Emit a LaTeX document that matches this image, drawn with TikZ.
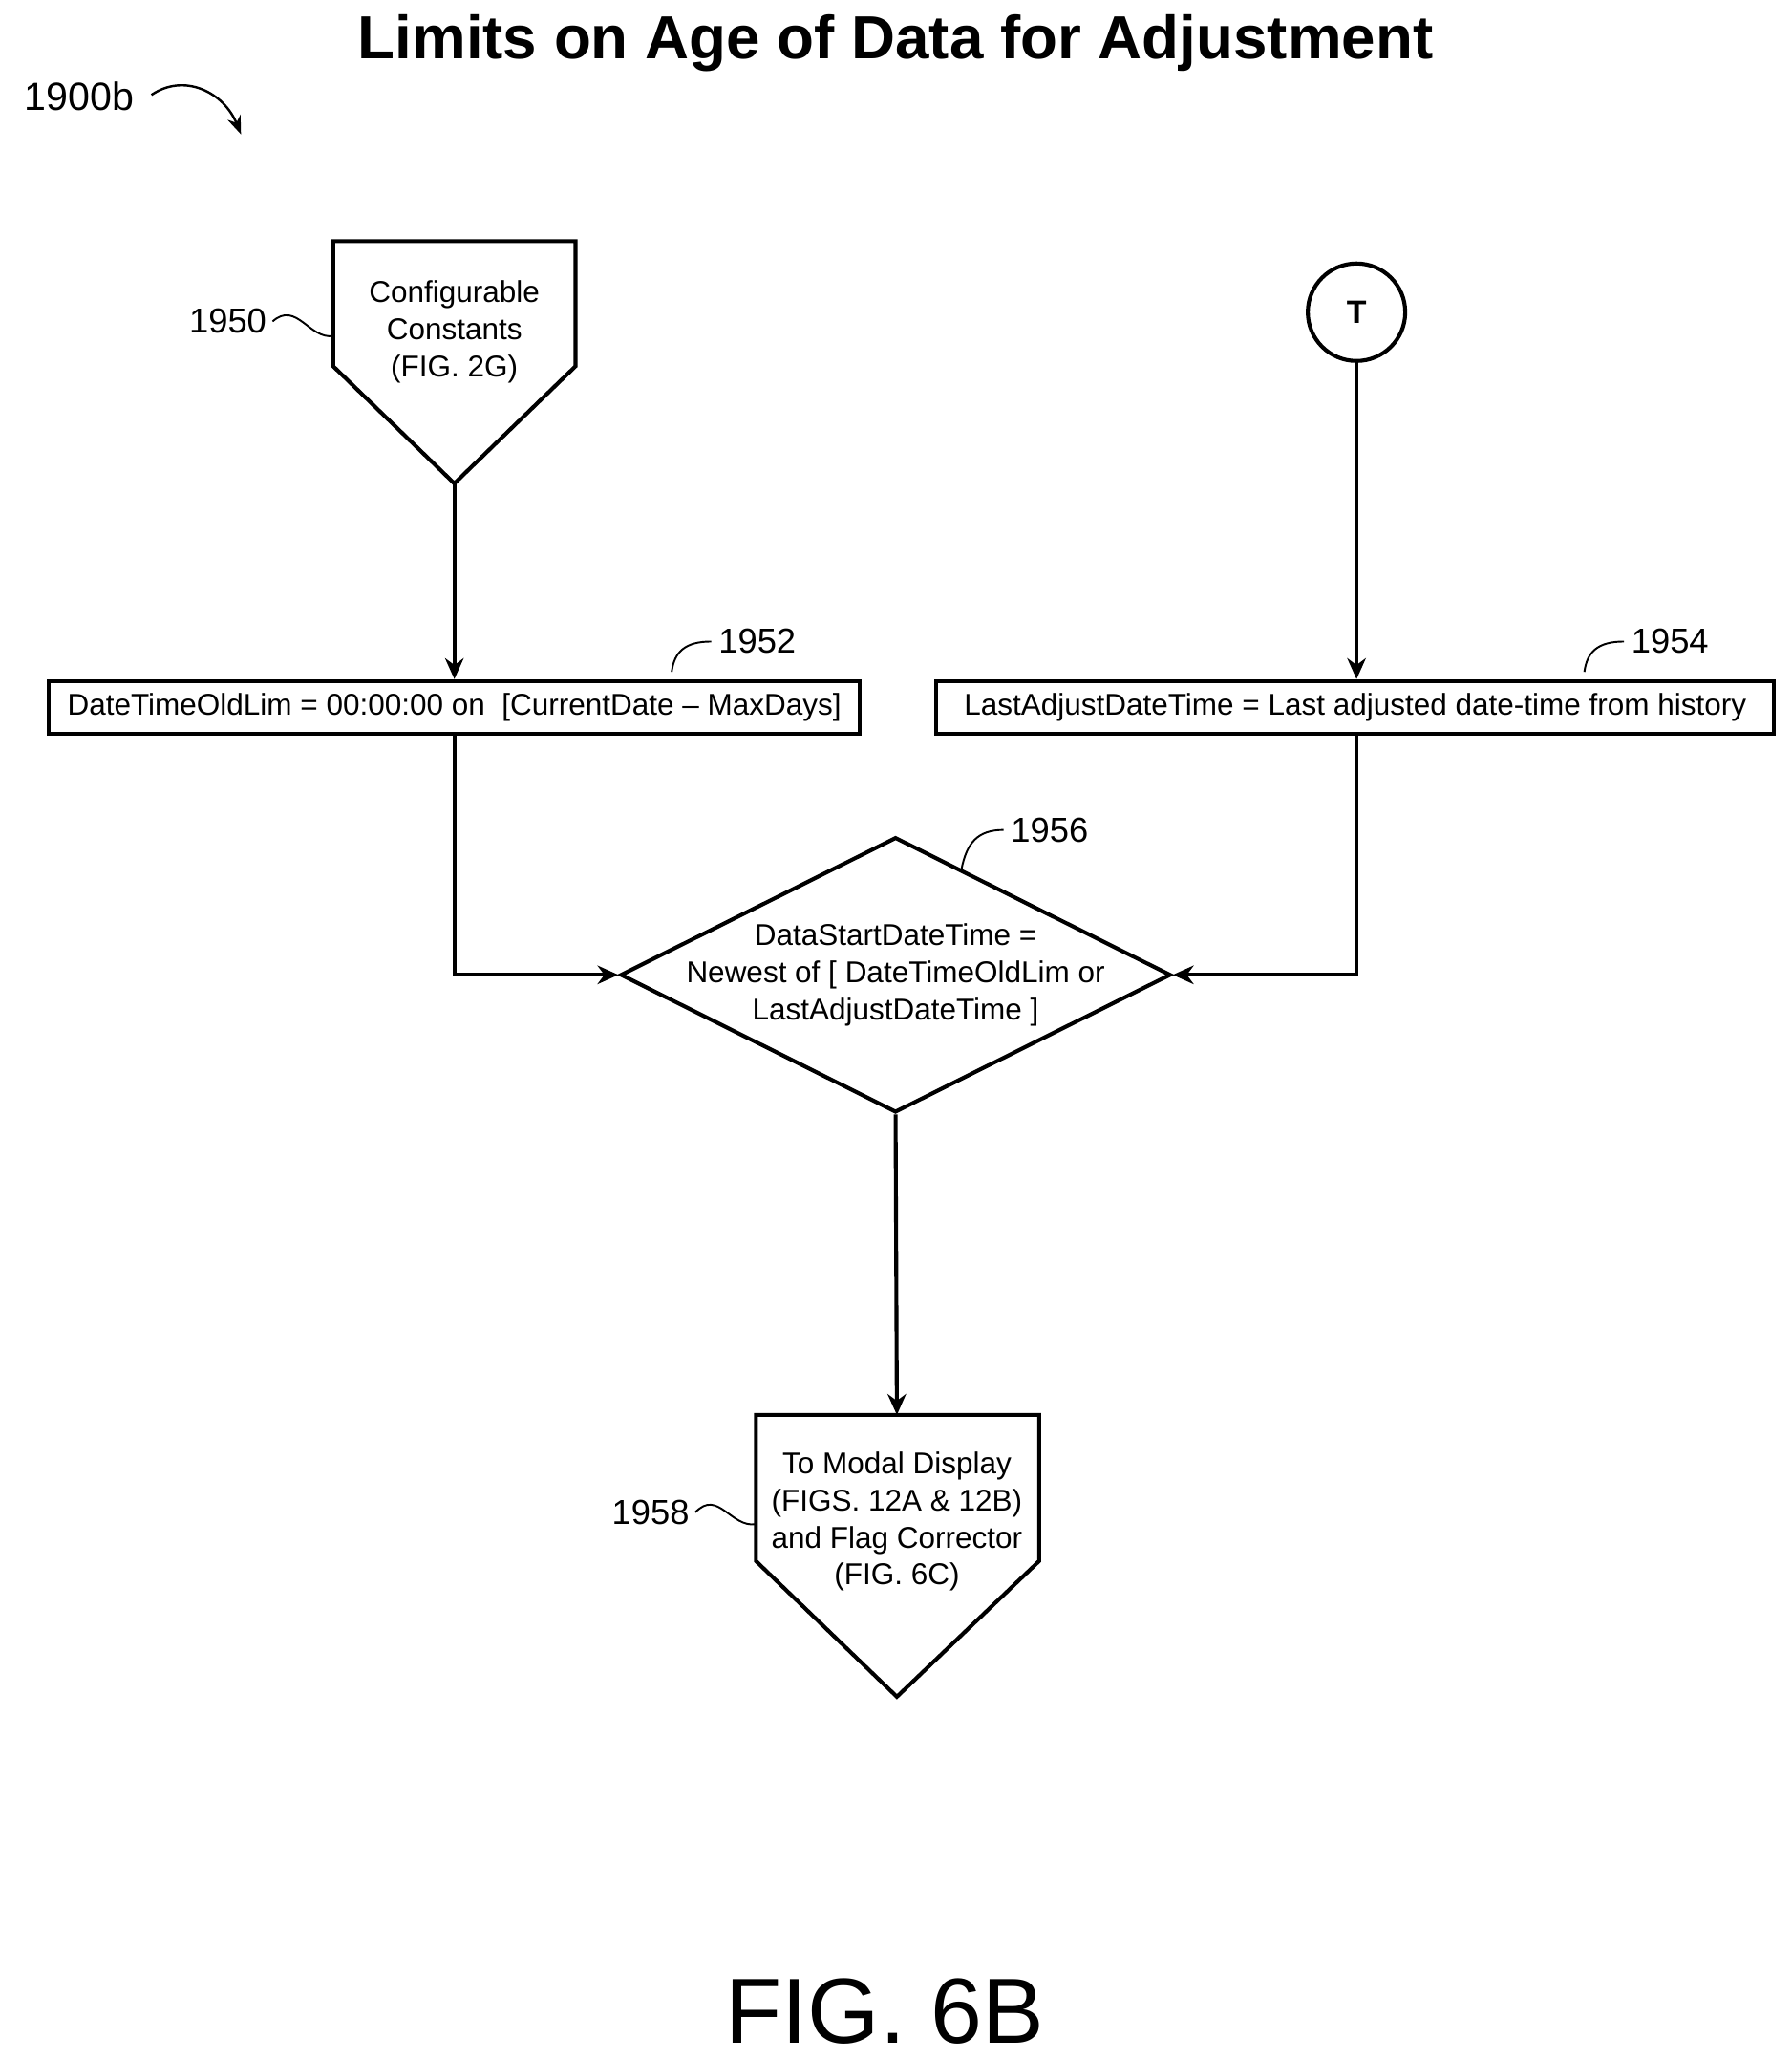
\documentclass[tikz,border=0pt]{standalone}
\usepackage{fontspec}
\setmainfont{Liberation Sans}
\usetikzlibrary{arrows.meta,shapes.geometric,positioning}
\tikzset{
	box/.style={draw, line width=1.7pt, minimum height=0.8cm, inner sep=2pt, font=\fontsize{13}{15}\selectfont},
	txt/.style={align=center, font=\fontsize{13}{16}\selectfont},
	ref/.style={font=\fontsize{15}{17}\selectfont},
	flow/.style={line width=1.7pt, -{Stealth[length=9pt,width=8pt]}},
	squig/.style={line width=0.8pt}
}
\begin{document}
\begin{tikzpicture}[x=0.02cm, y=-0.02cm]
	\useasboundingbox (0,0) rectangle (1360,1563);
	\node[font=\bfseries\fontsize{26.3}{30}\selectfont] (title) at (680,33) {Limits on Age of Data for Adjustment};
	\node[font=\fontsize{17}{20}\selectfont] (fignum) at (60,73) {1900b};
	\draw[line width=1pt, -{Stealth[length=8pt]}] (115,72) .. controls (140,55) and (170,70) .. (183,102);

	% configurable constants
	\draw[line width=1.7pt] (253,183) -- (437,183) -- (437,278) -- (345,367) -- (253,278) -- cycle;
	\coordinate (cc) at (345,367);
	\node[txt] (cctext) at (345,252) {Configurable\\Constants\\(FIG. 2G)};
	\node[ref] (r1950) at (173,244) {1950};
	\draw[squig] (207,244) .. controls (225,228) and (235,258) .. (253,255);

	% connector T
	\node[draw, circle, line width=1.7pt, minimum size=1.48cm, font=\bfseries\fontsize{14}{16}\selectfont] (T) at (1030,237) {T};

	% boxes
	\node[box, minimum width=12.32cm] (oldlim) at (345,537) {DateTimeOldLim = 00:00:00 on\ \ [CurrentDate -- MaxDays]};
	\node[box, minimum width=12.72cm] (lastadj) at (1029,537) {LastAdjustDateTime = Last adjusted date-time from history};
	\node[ref] (r1952) at (575,487) {1952};
	\draw[squig] (540,487) .. controls (520,487) and (512,495) .. (510,510);
	\node[ref] (r1954) at (1268,487) {1954};
	\draw[squig] (1233,487) .. controls (1213,487) and (1205,495) .. (1203,510);

	% decision
	\node[diamond, draw, line width=1.7pt, minimum width=8.36cm, minimum height=4.18cm, inner sep=0pt] (newest) at (680,740) {};
	\node[txt] (newtext) at (680,740) {DataStartDateTime =\\Newest of [ DateTimeOldLim or\\LastAdjustDateTime ]};
	\node[ref] (r1956) at (797,630) {1956};
	\draw[squig] (762,630) .. controls (742,630) and (734,640) .. (730,660);

	% output
	\draw[line width=1.7pt] (574,1074) -- (789,1074) -- (789,1185) -- (681,1288) -- (574,1185) -- cycle;
	\coordinate (outtop) at (681,1074);
	\node[txt] (outtext) at (681,1155) {To Modal Display\\(FIGS. 12A \& 12B)\\and Flag Corrector\\(FIG. 6C)};
	\node[ref] (r1958) at (494,1148) {1958};
	\draw[squig] (528,1148) .. controls (545,1130) and (555,1160) .. (574,1157);

	% flow
	\draw[flow] (cc) -- (oldlim.north -| cc);
	\draw[flow] (T) -- (lastadj.north -| T);
	\draw[flow] (oldlim.south) |- (newest.west);
	\draw[flow] (lastadj.south -| T) |- (newest.east);
	\draw[flow] (newest.south) -- (outtop);

	\node[font=\fontsize{40}{44}\selectfont] (fig) at (672,1527) {FIG. 6B};
\end{tikzpicture}
\end{document}
